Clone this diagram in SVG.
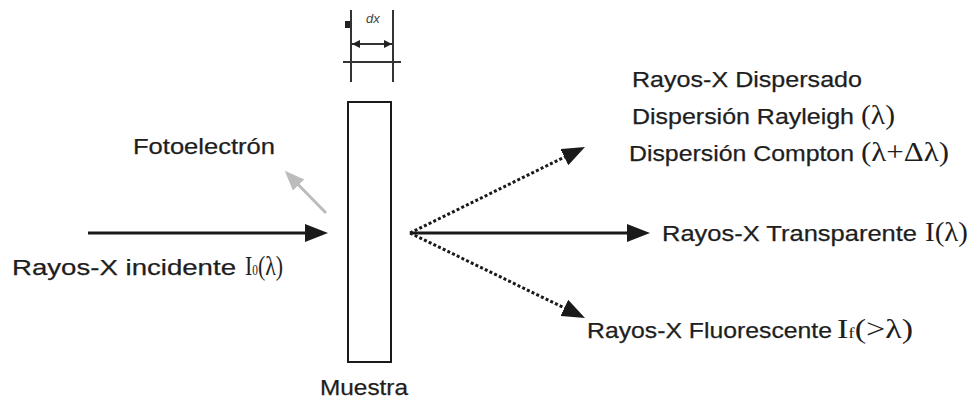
<svg xmlns="http://www.w3.org/2000/svg" width="975" height="402" viewBox="0 0 975 402">
  <style>
    .sans { font-family: "Liberation Sans", Arial, sans-serif; font-size: 22px; fill: #1e1e1e; stroke: #1e1e1e; stroke-width: 0.25; }
    .serif { font-family: "Liberation Serif", "Times New Roman", serif; font-size: 27px; fill: #1e1e1e; }
    .beam { stroke: #1a1a1a; stroke-width: 3; fill: none; }
    .dotted { stroke: #1a1a1a; stroke-width: 3; stroke-dasharray: 3 2.2; fill: none; }
    .dim { stroke: #333; stroke-width: 2; fill: none; }
  </style>
  <defs>
    <marker id="head" markerUnits="userSpaceOnUse" markerWidth="24" markerHeight="18" refX="13" refY="9" orient="auto">
      <path d="M0,0 L23,9 L0,18 z" fill="#1a1a1a"/>
    </marker>
    <marker id="headGray" markerUnits="userSpaceOnUse" markerWidth="22" markerHeight="18" refX="11" refY="8" orient="auto">
      <path d="M0,0 L20,8 L0,16 z" fill="#bcbcbc"/>
    </marker>
    <marker id="tick" markerUnits="userSpaceOnUse" markerWidth="10" markerHeight="10" refX="8" refY="4" orient="auto-start-reverse">
      <path d="M0,0 L8,4 L0,8 z" fill="#222"/>
    </marker>
  </defs>

  <!-- sample slab with its thickness dimension -->
  <g id="muestra">
    <rect x="348" y="102" width="43" height="260" fill="#fff" stroke="#1a1a1a" stroke-width="2"/>
    <text class="sans" x="320" y="395" textLength="88" lengthAdjust="spacingAndGlyphs">Muestra</text>
  </g>

  <g id="dx">
    <line class="dim" x1="351" y1="10" x2="351" y2="82"/>
    <line class="dim" x1="393" y1="10" x2="393" y2="82"/>
    <line class="dim" x1="343" y1="62" x2="401" y2="62"/>
    <line x1="352" y1="44" x2="392" y2="44" stroke="#333" stroke-width="2" marker-start="url(#tick)" marker-end="url(#tick)"/>
    <rect x="345" y="21" width="5" height="7" fill="#222"/>
    <text x="366" y="23" font-family="Liberation Sans, Arial, sans-serif" font-size="13" font-style="italic" fill="#444">dx</text>
  </g>

  <!-- beams -->
  <g id="connectors">
    <line class="beam" x1="88" y1="233" x2="318" y2="233" marker-end="url(#head)"/>
    <line x1="326" y1="213" x2="291" y2="177.2" stroke="#bcbcbc" stroke-width="3" marker-end="url(#headGray)"/>
    <line class="beam" x1="410" y1="233" x2="640" y2="233" marker-end="url(#head)"/>
    <line class="dotted" x1="410" y1="233" x2="576" y2="151.4" marker-end="url(#head)"/>
    <line class="dotted" x1="410" y1="233" x2="576" y2="313.6" marker-end="url(#head)"/>
  </g>

  <g id="incidente">
    <text class="sans" x="12" y="275" textLength="224" lengthAdjust="spacingAndGlyphs">Rayos-X incidente</text>
    <text class="serif" x="245" y="275" font-size="24" textLength="38" lengthAdjust="spacingAndGlyphs">I<tspan font-size="14">0</tspan>(λ)</text>
  </g>

  <g id="fotoelectron">
    <text class="sans" x="133" y="154" textLength="142" lengthAdjust="spacingAndGlyphs">Fotoelectrón</text>
  </g>

  <g id="dispersado">
    <text class="sans" x="632" y="87" textLength="230" lengthAdjust="spacingAndGlyphs">Rayos-X Dispersado</text>
    <text class="sans" x="632" y="124" textLength="222" lengthAdjust="spacingAndGlyphs">Dispersión Rayleigh</text>
    <text class="serif" x="861" y="124" textLength="34" lengthAdjust="spacingAndGlyphs">(λ)</text>
    <text class="sans" x="629" y="161" textLength="225" lengthAdjust="spacingAndGlyphs">Dispersión Compton</text>
    <text class="serif" x="861" y="161" textLength="88" lengthAdjust="spacingAndGlyphs">(λ+Δλ)</text>
  </g>

  <g id="transparente">
    <text class="sans" x="662" y="241" textLength="255" lengthAdjust="spacingAndGlyphs">Rayos-X Transparente</text>
    <text class="serif" x="925" y="241" textLength="43" lengthAdjust="spacingAndGlyphs">I(λ)</text>
  </g>

  <g id="fluorescente">
    <text class="sans" x="587" y="338" textLength="245" lengthAdjust="spacingAndGlyphs">Rayos-X Fluorescente</text>
    <text class="serif" x="837" y="338" textLength="76" lengthAdjust="spacingAndGlyphs">I<tspan font-size="15">f</tspan>(&gt;λ)</text>
  </g>
</svg>
